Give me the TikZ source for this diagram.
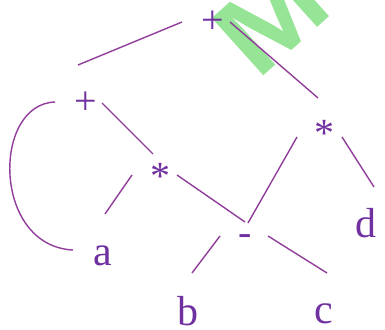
\documentclass[tikz,border=0pt]{standalone}
\usepackage{graphicx}
\usepackage{fontspec}
\setmainfont{Liberation Serif}
\newfontfamily\wmfont{Liberation Sans}
\definecolor{txtpurple}{RGB}{112,48,160}
\definecolor{linepurple}{RGB}{145,62,155}
\definecolor{wmgreen}{RGB}{150,228,150}
\begin{document}
\begin{tikzpicture}[x=1pt,y=-1pt,
  lbl/.style={text=txtpurple,inner sep=0pt,font=\fontsize{42}{42}\selectfont},
  op/.style={text=txtpurple,inner sep=0pt,font=\fontsize{40}{40}\selectfont},
  edge/.style={draw=linepurple,line width=1.4pt}]
\useasboundingbox (0,0) rectangle (385,329);
\begin{scope}
\clip (0,0) rectangle (385,329);
\node[text=wmgreen,inner sep=0pt,anchor=base west,rotate=42,font=\wmfont\bfseries\fontsize{112}{112}\selectfont] (wm) at (257,82) {\scalebox{1.13}[1]{M}};
\end{scope}
% operators
\node[op] (plusTop) at (213,22) {+};
\node[op] (plusL) at (86,103) {+};
\node[op] (starL) at (160,176) {*};
\node[op] (starR) at (324,133) {*};
\node[op] (minus) at (245,240) {-};
% leaves
\node[lbl,anchor=base] (a) at (103,265) {a};
\node[lbl,anchor=base] (b) at (188,325) {b};
\node[lbl,anchor=base] (c) at (324,323) {c};
\node[lbl,anchor=base] (d) at (366,237) {d};
% connector end points
\coordinate (e1a) at (78,65);   \coordinate (e1b) at (182,22);
\coordinate (e2a) at (230,22);  \coordinate (e2b) at (318,98);
\coordinate (e3a) at (102,103); \coordinate (e3b) at (153,154);
\coordinate (e4a) at (132,175); \coordinate (e4b) at (105,214);
\coordinate (e5a) at (177,175); \coordinate (e5b) at (245,222);
\coordinate (e6a) at (297,137); \coordinate (e6b) at (248,223);
\coordinate (e7a) at (342,137); \coordinate (e7b) at (374,187);
\coordinate (e8a) at (220,236); \coordinate (e8b) at (192,273);
\coordinate (e9a) at (268,236); \coordinate (e9b) at (327,273);
\coordinate (cva) at (55,102);  \coordinate (cvb) at (73,250);
\draw[edge] (e1a) -- (e1b);
\draw[edge] (e2a) -- (e2b);
\draw[edge] (e3a) -- (e3b);
\draw[edge] (e4a) -- (e4b);
\draw[edge] (e5a) -- (e5b);
\draw[edge] (e6a) -- (e6b);
\draw[edge] (e7a) -- (e7b);
\draw[edge] (e8a) -- (e8b);
\draw[edge] (e9a) -- (e9b);
\draw[edge] (cva) .. controls (-8,104) and (-8,246) .. (cvb);
\end{tikzpicture}
\end{document}
